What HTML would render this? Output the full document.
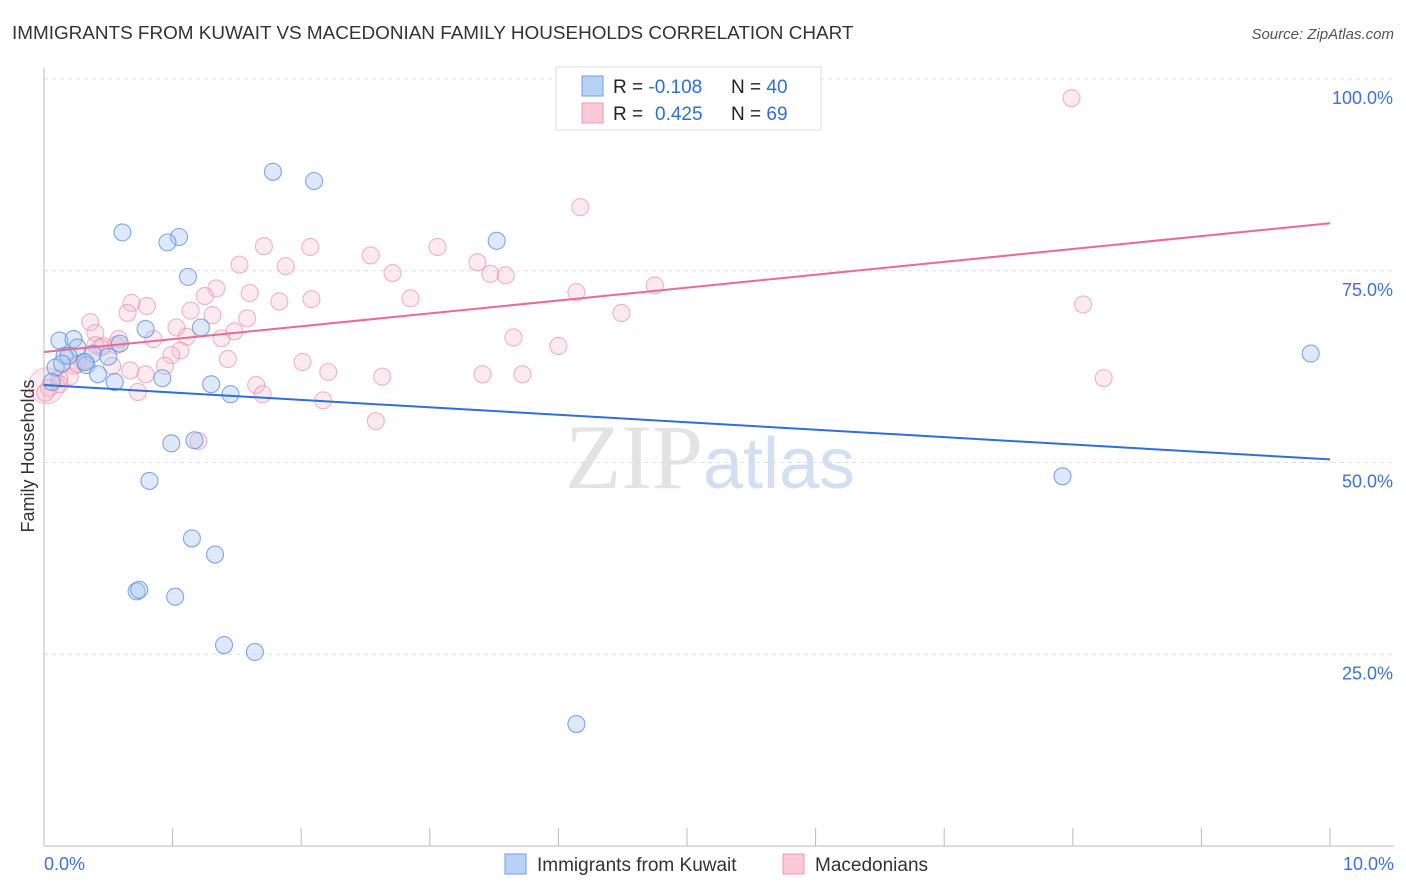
<!DOCTYPE html>
<html><head><meta charset="utf-8"><style>
body{margin:0;background:#fff;font-family:"Liberation Sans",sans-serif;}
svg{display:block}
</style></head><body>
<svg id="chart" width="1406" height="892" viewBox="0 0 1406 892">
<text x="12" y="39" font-size="18.9" fill="#333">IMMIGRANTS FROM KUWAIT VS MACEDONIAN FAMILY HOUSEHOLDS CORRELATION CHART</text>
<text x="1394" y="39" font-size="15" fill="#555" text-anchor="end" font-style="italic">Source: ZipAtlas.com</text>
<text x="710" y="488" font-size="92" text-anchor="middle" font-family="Liberation Serif,serif" fill="#ddd" opacity="0.8">ZIP<tspan fill="#c8d8f0" font-family="Liberation Sans,sans-serif" font-size="72">atlas</tspan></text>
<g id="grid"></g><g id="axes"></g><g id="marks"></g>
<text transform="translate(34,456) rotate(-90)" font-size="18" fill="#333" text-anchor="middle">Family Households</text>
<text x="44" y="870" font-size="18" fill="#3b73d6">0.0%</text>
<text x="1394" y="870" font-size="18" fill="#3b73d6" text-anchor="end">10.0%</text>
<g>
<rect x="556" y="67" width="265" height="63" fill="#fff" stroke="#ddd"/>
<rect x="582" y="76" width="21" height="20" fill="#b8d2f5" stroke="#6f9fe6"/>
<rect x="582" y="103" width="21" height="20" fill="#fbc9d8" stroke="#ec98b3"/>
<text x="613" y="93" font-size="19" fill="#222">R = <tspan fill="#2f6fd6">-0.108</tspan><tspan x="731">N = </tspan><tspan fill="#2f6fd6">40</tspan></text>
<text x="613" y="120" font-size="19" fill="#222">R = <tspan fill="#2f6fd6" x="655">0.425</tspan><tspan x="731">N = </tspan><tspan fill="#2f6fd6">69</tspan></text>
</g>
<g>
<rect x="505" y="854" width="21" height="20" fill="#b8d2f5" stroke="#6f9fe6"/>
<text x="537" y="871" font-size="19" fill="#333">Immigrants from Kuwait</text>
<rect x="783" y="854" width="21" height="20" fill="#fbc9d8" stroke="#ec98b3"/>
<text x="815" y="871" font-size="19" fill="#333">Macedonians</text>
</g>
</svg>
<script>
const yTicks=[25,50,75,100];
const yTickLabels=["25.0%","50.0%","75.0%","100.0%"];
const xTicks=[0,1,2,3,4,5,6,7,8,9,10];
const blueX=[1.78,2.10,0.61,1.05,0.96,3.52,1.12,0.79,1.22,0.12,0.23,0.26,0.38,0.16,0.50,0.59,0.33,0.09,0.42,0.55,0.06,0.92,1.30,1.45,0.99,1.17,0.82,1.15,1.33,0.72,0.74,1.02,1.40,1.64,4.14,7.92,9.85,0.19,0.32,0.14];
const blueY=[87.9,86.7,80.0,79.4,78.7,78.9,74.2,67.4,67.6,65.9,66.1,65.0,64.2,63.9,63.8,65.5,62.7,62.4,61.5,60.5,60.5,61.0,60.2,58.9,52.5,52.9,47.6,40.1,38.0,33.2,33.4,32.5,26.2,25.3,15.9,48.2,64.2,63.9,63.1,62.9];
const pinkX=[7.99,4.17,1.71,2.07,3.06,2.54,1.52,3.37,1.88,2.71,3.47,3.59,1.34,1.60,1.25,4.14,4.75,0.68,0.80,1.83,2.08,2.85,1.14,0.65,1.31,8.08,0.36,1.03,4.49,1.58,1.48,0.40,0.85,1.11,1.38,0.58,3.65,0.46,4.00,1.06,0.56,0.99,1.43,2.01,0.30,0.53,0.23,0.94,0.79,2.21,3.72,3.41,2.63,0.20,8.24,0.12,1.65,0.73,1.70,2.17,2.58,1.20,0.04,0.01,0.12,0.26,0.44,0.67,0.40];
const pinkY=[97.5,83.3,78.2,78.1,78.1,77.0,75.8,76.1,75.6,74.7,74.6,74.4,72.7,72.1,71.7,72.2,73.1,70.8,70.4,71.0,71.3,71.4,69.8,69.5,69.2,70.6,68.3,67.6,69.5,68.8,67.1,66.9,66.1,66.4,66.2,66.1,66.3,65.2,65.2,64.6,65.3,64.0,63.5,63.1,63.1,62.6,62.6,62.6,61.5,61.8,61.5,61.5,61.2,61.2,61.0,61.0,60.1,59.2,58.9,58.1,55.4,52.8,59.7,59.1,60.2,62.8,65.0,62.0,65.3];
const blueTrend=[60.1,50.4];
const pinkTrend=[64.4,81.2];
const NS="http://www.w3.org/2000/svg";
const X0=44,X1=1330,Y0=846,Y100=79;
function sx(v){return X0+(X1-X0)*v/10;}
function sy(v){return Y0-(Y0-Y100)*v/100;}
function mk(tag,attrs,parent){const e=document.createElementNS(NS,tag);for(const k in attrs)e.setAttribute(k,attrs[k]);document.getElementById(parent).appendChild(e);return e;}
yTicks.forEach((t,i)=>{
 const g=mk('line',{x1:X0,x2:1394,y1:sy(t),y2:sy(t),stroke:'#ddd','stroke-dasharray':'4,4'},'grid');
 
 
 const l=mk('text',{x:1393,y:sy(t)+25,'font-size':18,fill:'#3b73d6','text-anchor':'end'},'grid');
 l.textContent=yTickLabels[i];
 
 
});
const ax=mk('line',{x1:X0,x2:X0,y1:68,y2:Y0,stroke:'#bbb'},'axes');


const bx=mk('line',{x1:X0,x2:1394,y1:Y0,y2:Y0,stroke:'#bbb'},'axes');


xTicks.forEach(t=>{
 const k=mk('line',{x1:sx(t),x2:sx(t),y1:Y0-18,y2:Y0,stroke:'#bbb'},'axes');
 
 
});
function pts(xs,ys,fill,stroke,name){
 xs.forEach((x,i)=>{
  const c=mk('circle',{cx:sx(x),cy:sy(ys[i]),r:8.5,fill:fill,stroke:stroke,'stroke-width':1.1},'marks');
  
  
 });
}
const big=mk('circle',{cx:sx(0.02),cy:sy(60),r:18,fill:'rgba(245,170,195,0.25)',stroke:'rgba(232,140,170,0.5)'},'marks');


pts(pinkX,pinkY,'rgba(248,185,205,0.3)','rgba(232,140,170,0.65)','macedonians-point');
pts(blueX,blueY,'rgba(165,198,242,0.38)','rgba(90,140,222,0.75)','kuwait-point');
const bl=mk('line',{x1:sx(0),y1:sy(blueTrend[0]),x2:sx(10),y2:sy(blueTrend[1]),stroke:'#2f6fd6','stroke-width':2},'marks');


const pl=mk('line',{x1:sx(0),y1:sy(pinkTrend[0]),x2:sx(10),y2:sy(pinkTrend[1]),stroke:'#e76a98','stroke-width':2},'marks');


</script>
</body></html>
